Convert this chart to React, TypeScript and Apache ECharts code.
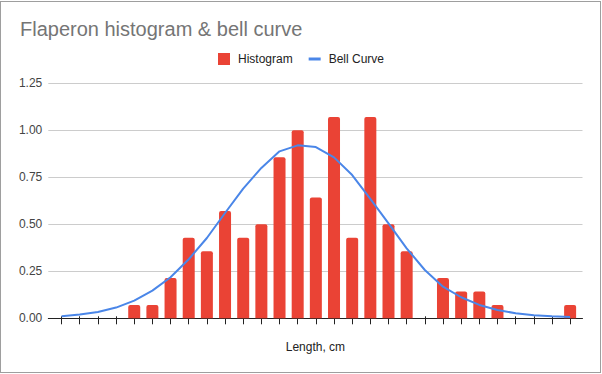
import React, { useEffect, useRef } from "react";
import * as echarts from "echarts";

const categories: string[] = [
  "1", "2", "3", "4", "5", "6", "7", "8", "9", "10",
  "11", "12", "13", "14", "15", "16", "17", "18", "19", "20",
  "21", "22", "23", "24", "25", "26", "27", "28", "29",
];
const histogram: number[] = [
  0, 0, 0, 0, 0.071, 0.071, 0.214, 0.429, 0.357, 0.571,
  0.429, 0.5, 0.857, 1.0, 0.643, 1.071, 0.429, 1.071, 0.5, 0.357,
  0, 0.214, 0.143, 0.143, 0.071, 0, 0, 0, 0.071,
];
const bellCurve: number[] = [
  0.011, 0.02, 0.034, 0.057, 0.094, 0.147, 0.218, 0.314, 0.427, 0.56,
  0.69, 0.8, 0.888, 0.92, 0.911, 0.856, 0.762, 0.635, 0.505, 0.372,
  0.257, 0.168, 0.112, 0.071, 0.044, 0.027, 0.016, 0.011, 0.007,
];
const yTicks: number[] = [0, 0.25, 0.5, 0.75, 1.0, 1.25];

const FONT = "'Liberation Sans', Arial, sans-serif";

export default function App() {
  const ref = useRef<HTMLDivElement>(null);
  useEffect(() => {
    if (!ref.current) return;
    const chart = echarts.init(ref.current, undefined, { renderer: "svg" });
    const yMin = yTicks[0];
    const yMax = yTicks[yTicks.length - 1];
    const yInt = yTicks[1] - yTicks[0];
    chart.setOption({
      animation: false,
      textStyle: { fontFamily: FONT },
      title: {
        text: "Flaperon histogram & bell curve",
        left: 15,
        top: 14,
        textStyle: { fontFamily: FONT, fontSize: 20, fontWeight: "normal", color: "#757575" },
      },
      legend: {
        top: 48,
        left: "center",
        itemWidth: 12,
        itemHeight: 12,
        itemGap: 16,
        textStyle: { fontFamily: FONT, fontSize: 12, color: "#222", padding: [0, 0, 0, 3] },
        data: [
          { name: "Histogram", icon: "rect" },
          { name: "Bell Curve", icon: "path://M0,0H12V3H0Z" },
        ],
      },
      grid: [
        { left: 48.3, right: 19.5, top: 83.3, bottom: 55.7 },
        { left: 52.5, right: 22.8, top: 83.3, bottom: 55.7 },
      ],
      xAxis: [
        {
          type: "value",
          gridIndex: 0,
          min: 0,
          max: 1,
          axisLine: { show: true, lineStyle: { color: "#222", width: 1 } },
          axisTick: { show: false },
          axisLabel: { show: false },
          splitLine: { show: false },
          name: "Length, cm",
          nameLocation: "middle",
          nameGap: 23,
          nameTextStyle: { fontFamily: FONT, fontSize: 12, color: "#222" },
        },
        {
          type: "category",
          gridIndex: 1,
          data: categories,
          axisLine: { show: false },
          axisTick: { show: true, alignWithLabel: true, interval: 0, length: 6, lineStyle: { color: "#222" } },
          axisLabel: { show: false, interval: 0 },
          splitLine: { show: false },
        },
        {
          type: "category",
          gridIndex: 1,
          position: "bottom",
          data: categories,
          axisLine: { show: false },
          axisTick: { show: true, inside: true, alignWithLabel: true, interval: 0, length: 2, lineStyle: { color: "#222" } },
          axisLabel: { show: false, interval: 0 },
          splitLine: { show: false },
        },
      ],
      yAxis: [
        {
          type: "value",
          gridIndex: 0,
          min: yMin,
          max: yMax,
          interval: yInt,
          axisLine: { show: false },
          axisTick: { show: false },
          axisLabel: {
            margin: 6,
            color: "#444",
            fontFamily: FONT,
            fontSize: 12,
            formatter: (v: number) => v.toFixed(2),
          },
          splitLine: { lineStyle: { color: "#cccccc", width: 1 } },
        },
        {
          type: "value",
          gridIndex: 1,
          min: yMin,
          max: yMax,
          interval: yInt,
          show: false,
          splitLine: { show: false },
        },
      ],
      series: [
        {
          name: "Histogram",
          type: "bar",
          xAxisIndex: 1,
          yAxisIndex: 1,
          data: histogram,
          barWidth: 12,
          itemStyle: { color: "#ea4335", borderRadius: [2, 2, 0, 0] },
          z: 2,
        },
        {
          name: "Bell Curve",
          type: "line",
          xAxisIndex: 1,
          yAxisIndex: 1,
          data: bellCurve,
          smooth: false,
          showSymbol: false,
          symbol: "none",
          lineStyle: { color: "#4a86e8", width: 2 },
          itemStyle: { color: "#4a86e8" },
          z: 3,
        },
      ],
    });
    return () => chart.dispose();
  }, []);
  return (
    <>
      <div
        style={{
          position: "absolute",
          left: 0,
          top: 1,
          width: 601,
          height: 372,
          boxSizing: "border-box",
          border: "1.5px solid #9e9e9e",
          background: "#fff",
        }}
      />
      <div
        ref={ref}
        style={{ position: "absolute", left: 0, top: 0, width: 602, height: 374 }}
      />
    </>
  );
}
